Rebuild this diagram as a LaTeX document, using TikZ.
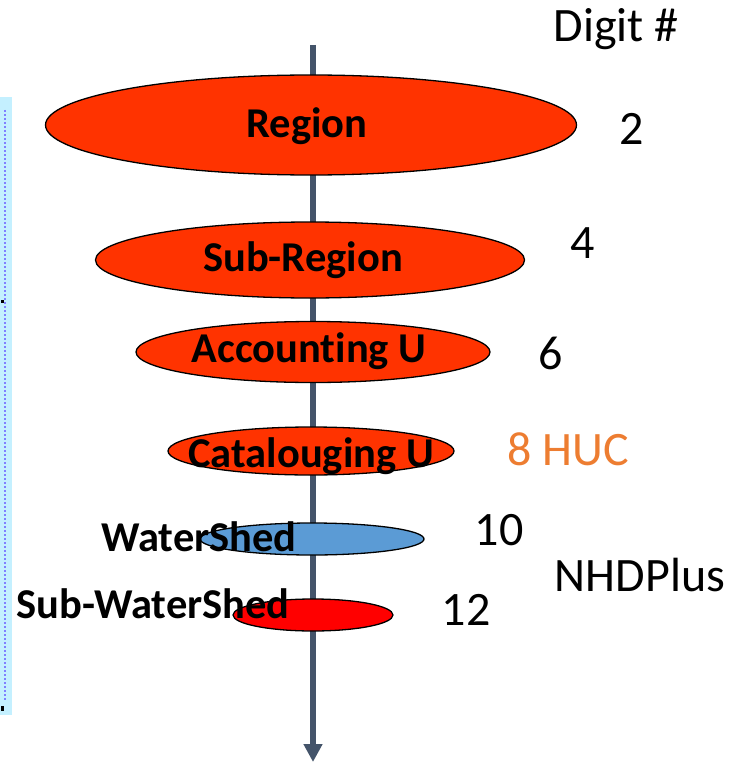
\documentclass[tikz,border=0pt]{standalone}
\usepackage{fontspec}
\setmainfont{Carlito}[Ligatures = NoCommon]
\usetikzlibrary{shapes.geometric, arrows.meta}
\definecolor{hucRed}{HTML}{FF3300}
\definecolor{shedBlue}{HTML}{5B9BD5}
\definecolor{subRed}{HTML}{FF0000}
\definecolor{axisGray}{HTML}{44546A}
\definecolor{hucOrange}{HTML}{ED7D31}
\definecolor{stripBlue}{HTML}{C4F0FF}

\begin{document}
\begin{tikzpicture}[x = 1pt, y = -1pt,
		blob/.style = {ellipse, draw, line width = 1.3pt, inner sep = 0pt},
		lbl/.style = {anchor = base, inner sep = 0pt, font = \bfseries\fontsize{#1}{#1}\selectfont},
		digit/.style = {anchor = base, inner sep = 0pt, font = \fontsize{48}{48}\selectfont}]
		\useasboundingbox (0, 0) rectangle (730, 765);
		%%%%%%%%%%%%%
		\fill [stripBlue] (0, 97) rectangle (12, 715);
		\draw [blue!50, line width = 2pt, dotted] (5, 110) -- (5, 700);
		\fill (1, 300) rectangle (4, 303); \fill (1, 706) rectangle (4, 711);
		%%%%%%%%%%%%%
		\coordinate (top) at (313, 45);
		\coordinate (bottom) at (313, 762);
		\draw [axisGray, line width = 6pt, -{Triangle[width = 18pt, length = 18pt]}] (top) -- (bottom);
		%%%%%%%%%%%%%
		\node [blob, fill = hucRed, minimum width = 531, minimum height = 100] (region) at (311, 125) {};
		\node [blob, fill = hucRed, minimum width = 429, minimum height = 76] (subregion) at (310, 260) {};
		\node [blob, fill = hucRed, minimum width = 354, minimum height = 61] (account) at (313, 352) {};
		\node [blob, fill = hucRed, minimum width = 286, minimum height = 48] (catalog) at (311, 451) {};
		\node [blob, fill = shedBlue, minimum width = 224, minimum height = 32] (shed) at (312, 539) {};
		\node [blob, fill = subRed, minimum width = 160, minimum height = 32] (subshed) at (313, 615) {};
		%%%%%%%%%%%%%
		\node [lbl = 42.5] (regionTxt) at (307, 137) {Region};
		\node [lbl = 42.5] (subregionTxt) at (303, 271) {Sub-Region};
		\node [lbl = 42.5] (accountTxt) at (309, 362) {Accounting U};
		\node [lbl = 42.5] (catalogTxt) at (311, 467) {Catalouging U};
		\node [lbl = 42.5] (shedTxt) at (199, 551) {WaterShed};
		\node [lbl = 42.5] (subshedTxt) at (153, 618) {Sub-WaterShed};
		%%%%%%%%%%%%%
		\node [digit] (head) at (616, 42) {Digit \#};
		\node [digit] (d2) at (632, 144) {2};
		\node [digit] (d4) at (583, 258) {4};
		\node [digit] (d6) at (551, 369) {6};
		\node [digit, hucOrange] (d8) at (568, 465) {8 HUC};
		\node [digit] (d10) at (499, 545) {10};
		\node [digit] (nhd) at (640, 591) {NHDPlus};
		\node [digit] (d12) at (466, 625) {12};
\end{tikzpicture}
\end{document}
